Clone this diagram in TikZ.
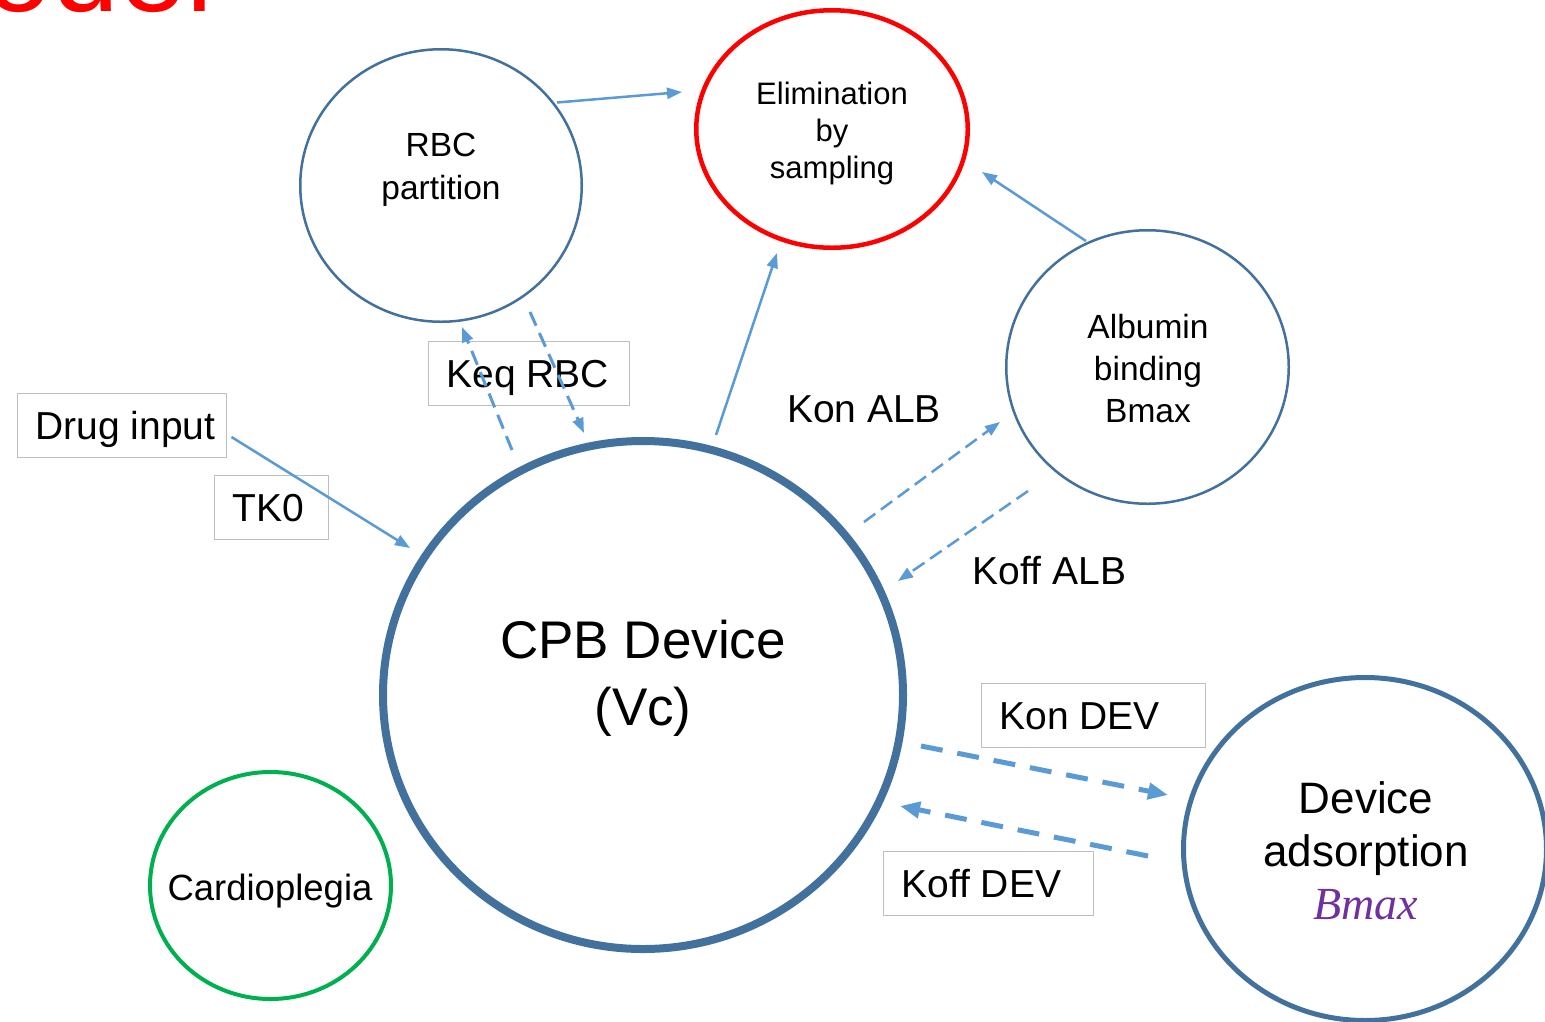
\documentclass[tikz,border=0pt]{standalone}
\usepackage{fontspec}
\setmainfont{Liberation Sans}
\newfontfamily\bmaxfont{Liberation Serif}
\usetikzlibrary{shapes.geometric,arrows.meta,calc}
\definecolor{cblue}{HTML}{41719C}
\definecolor{ablue}{HTML}{5B9BD5}
\definecolor{cred}{HTML}{FF0000}
\definecolor{cgreen}{HTML}{00B050}
\definecolor{cgray}{HTML}{BFBFBF}
\definecolor{cpurple}{HTML}{7030A0}
\begin{document}
\begin{tikzpicture}[x=1pt,y=-1pt,
  comp/.style={ellipse, inner sep=0pt, outer sep=0pt, draw=cblue},
  lbox/.style={draw=cgray, line width=1pt, rectangle, anchor=west, inner xsep=18pt, inner ysep=0pt,
     minimum height=64pt, text height=28pt, text depth=0pt, font=\fontsize{39}{47}\selectfont},
  lab/.style={inner sep=0pt, text height=28pt, text depth=0pt, font=\fontsize{39}{47}\selectfont},
  txt/.style={align=center, inner sep=0pt},
  flow/.style={draw=ablue, line width=2.5pt, -{Triangle[length=15pt,width=11pt]}},
  kflow/.style={flow, line width=3pt, dash pattern=on 15pt off 8pt},
  aflow/.style={flow, dash pattern=on 14pt off 7pt},
  dflow/.style={draw=ablue, line width=5pt, dash pattern=on 22pt off 15pt, -{Triangle[length=20pt,width=16pt]}}
]
\clip (0,0) rectangle (1545,1021);
\fill[white] (0,0) rectangle (1545,1021);

% title fragment
\node[anchor=base east, inner sep=0pt, text=cred, font=\fontsize{120}{130}\selectfont] (title) at (213,11) {Model};

% compartments
\node[comp, line width=8pt, minimum width=520pt, minimum height=508pt] (cpb) at (643,695) {};
\node[comp, line width=2.5pt, minimum width=281.5pt, minimum height=272.5pt] (rbc) at (441,185.5) {};
\node[comp, draw=cred, line width=4.5pt, minimum width=271.5pt, minimum height=237.5pt] (elim) at (832,129) {};
\node[comp, line width=2.5pt, minimum width=282.5pt, minimum height=273.5pt] (alb) at (1147.5,367) {};
\node[comp, line width=5pt, minimum width=363pt, minimum height=343pt] (dev) at (1365,849) {};
\node[comp, draw=cgreen, line width=4pt, minimum width=241pt, minimum height=227pt] (cardio) at (270.5,885.5) {};

% compartment texts
\node[txt, font=\fontsize{53}{67}\selectfont, text height=38pt, text depth=67pt] (cpbt) at (643,739.5) {CPB Device\\(Vc)};
\node[txt, font=\fontsize{33.5}{43}\selectfont, text height=24pt, text depth=43pt] (rbct) at (441,208.5) {RBC\\partition};
\node[txt, font=\fontsize{31}{37}\selectfont, text height=22pt, text depth=74pt] (elimt) at (832,204) {Elimination\\by\\sampling};
\node[txt, font=\fontsize{33.5}{42}\selectfont, text height=24pt, text depth=84pt] (albt) at (1148,452) {Albumin\\binding\\Bmax};
\node[txt, font=\fontsize{44}{53}\selectfont, text height=31.5pt, text depth=106pt] (devt) at (1366,957) {Device\\adsorption\\{\bmaxfont\itshape\fontsize{46}{53}\selectfont\textcolor{cpurple}{Bmax}}};
\node[txt, font=\fontsize{36.5}{44}\selectfont, text height=26pt, text depth=0pt] (cardiot) at (270,887) {Cardioplegia};

% label boxes
\node[lbox] (drug) at (17,425) {\makebox[173pt][l]{Drug input}};
\node[lbox] (tk0) at (214,507) {\makebox[78pt][l]{TK0}};
\node[lbox] (keq) at (428,373) {\makebox[165pt][l]{Keq RBC}};
\node[lbox] (kondev) at (981,715.5) {\makebox[188pt][l]{Kon DEV}};
\node[lbox] (koffdev) at (883,883.5) {\makebox[174pt][l]{Koff DEV}};
\node[lab] (konalb) at (864,408) {Kon ALB};
\node[lab] (koffalb) at (1049.5,570) {Koff ALB};

% connectors
\draw[flow] ($(drug)+(109.5,12)$) -- ($(cpb)+(-233,-147)$);
\draw[flow] ($(rbc)+(116,-83)$) -- ($(elim)+(-150,-37)$);
\draw[flow] ($(cpb)+(73,-260)$) -- ($(elim)+(-55,124)$);
\draw[flow] ($(alb)+(-61.5,-126)$) -- ($(elim)+(150,43)$);
\draw[kflow] ($(cpb)+(-131,-245)$) -- ($(rbc)+(21,141.5)$);
\draw[kflow] ($(rbc)+(89,126.5)$) -- ($(cpb)+(-59,-262)$);
\draw[aflow] ($(cpb)+(221,-173)$) -- ($(alb)+(-147.5,55)$);
\draw[aflow] ($(alb)+(-119.5,124)$) -- ($(cpb)+(255,-114)$);
\draw[dflow] ($(cpb)+(278,51)$) -- ($(dev)+(-197,-54)$);
\draw[dflow] ($(dev)+(-217,7)$) -- ($(cpb)+(257,111)$);
\end{tikzpicture}
\end{document}
